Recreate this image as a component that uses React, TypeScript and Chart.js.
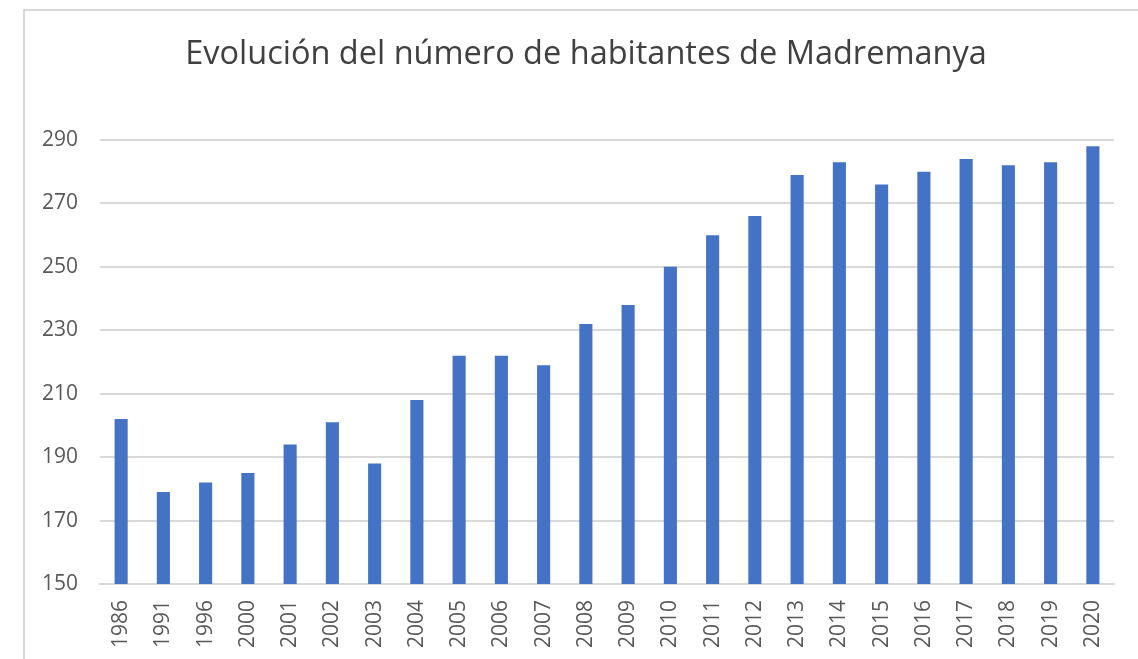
import React, { useEffect, useRef } from "react";
import { Chart, registerables } from "chart.js";

Chart.register(...registerables);

const years = ["1986","1991","1996","2000","2001","2002","2003","2004","2005","2006","2007","2008","2009","2010","2011","2012","2013","2014","2015","2016","2017","2018","2019","2020"];
const habitantes = [202,179,182,185,194,201,188,208,222,222,219,232,238,250,260,266,279,283,276,280,284,282,283,288];
const titleText = "Evolución del número de habitantes de Madremanya";
const yMin = 150;
const yMax = 290;
const yStep = 20;

const titlePlugin = {
  id: "fixedTitle",
  afterDraw(chart: any) {
    const ctx = chart.ctx;
    ctx.save();
    ctx.font = "normal 32.5px 'Open Sans'";
    ctx.fillStyle = "#404040";
    ctx.textAlign = "center";
    ctx.textBaseline = "middle";
    ctx.fillText(titleText, 586, 55);
    ctx.restore();
  },
};

export default function App() {
  const ref = useRef<HTMLCanvasElement | null>(null);
  useEffect(() => {
    if (!ref.current) return;
    const chart = new Chart(ref.current, {
      type: "bar",
      data: {
        labels: years,
        datasets: [{
          data: habitantes,
          backgroundColor: "#4472C4",
          borderWidth: 0,
          barPercentage: 0.31,
          categoryPercentage: 1,
        }],
      },
      options: {
        animation: false,
        responsive: false,
        layout: { padding: { left: 0, right: 24, top: 140, bottom: 0 } },
        plugins: {
          legend: { display: false },
          tooltip: { enabled: false },
          title: { display: false },
        },
        scales: {
          x: {
            grid: { display: false, drawTicks: false },
            border: { display: true, color: "#d9d9d9", width: 2 },
            ticks: {
              autoSkip: false,
              maxRotation: 90,
              minRotation: 90,
              padding: 16,
              color: "#595959",
              font: { family: "Open Sans", size: 21 },
            },
            afterFit: (s: any) => { s.height = 75; },
          },
          y: {
            min: yMin,
            max: yMax,
            grid: { color: "#d9d9d9", lineWidth: 2, drawTicks: false },
            border: { display: false },
            ticks: {
              stepSize: yStep,
              padding: 22,
              color: "#595959",
              font: { family: "Open Sans", size: 21 },
            },
            afterFit: (s: any) => { s.width = 100; },
          },
        },
      },
      plugins: [titlePlugin],
    });
    return () => chart.destroy();
  }, []);
  return (
    <div style={{ position: "fixed", left: 0, top: 0, width: 1138, height: 659, background: "#fff", overflow: "hidden" }}>
      <div style={{ position: "absolute", left: 23, top: 9, width: 1200, height: 700, borderLeft: "2px solid #d9d9d9", borderTop: "2px solid #d9d9d9" }} />
      <canvas ref={ref} width={1138} height={659} style={{ position: "absolute", left: 0, top: 0 }} />
    </div>
  );
}
